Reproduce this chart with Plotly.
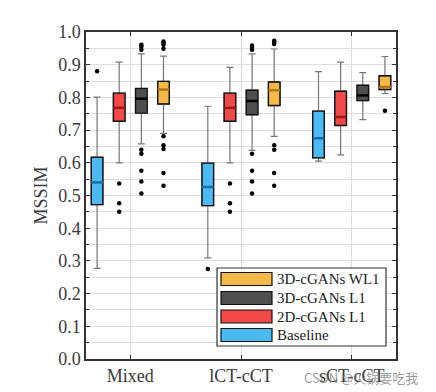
import plotly.graph_objects as go

categories = ["Mixed", "lCT-cCT", "sCT-cCT"]
methods = ["Baseline", "2D-cGANs L1", "3D-cGANs L1", "3D-cGANs WL1"]

# per method: values for each category
lower = {
    "Baseline":     [0.277, 0.309, 0.605],
    "2D-cGANs L1":  [0.600, 0.600, 0.624],
    "3D-cGANs L1":  [0.658, 0.638, 0.732],
    "3D-cGANs WL1": [0.690, 0.681, 0.812],
}
q1 = {
    "Baseline":     [0.472, 0.469, 0.615],
    "2D-cGANs L1":  [0.727, 0.727, 0.714],
    "3D-cGANs L1":  [0.752, 0.747, 0.790],
    "3D-cGANs WL1": [0.780, 0.775, 0.824],
}
median = {
    "Baseline":     [0.540, 0.526, 0.675],
    "2D-cGANs L1":  [0.768, 0.768, 0.740],
    "3D-cGANs L1":  [0.796, 0.789, 0.806],
    "3D-cGANs WL1": [0.824, 0.822, 0.832],
}
q3 = {
    "Baseline":     [0.617, 0.599, 0.758],
    "2D-cGANs L1":  [0.813, 0.813, 0.819],
    "3D-cGANs L1":  [0.827, 0.822, 0.837],
    "3D-cGANs WL1": [0.849, 0.847, 0.866],
}
upper = {
    "Baseline":     [0.801, 0.773, 0.879],
    "2D-cGANs L1":  [0.908, 0.892, 0.908],
    "3D-cGANs L1":  [0.933, 0.933, 0.876],
    "3D-cGANs WL1": [0.926, 0.948, 0.925],
}
outliers = {
    "Baseline":     [[0.880], [0.275], []],
    "2D-cGANs L1":  [[0.537, 0.476, 0.450], [0.537, 0.476, 0.450], []],
    "3D-cGANs L1":  [[0.961, 0.956, 0.946, 0.640, 0.628, 0.576, 0.543, 0.506],
                     [0.959, 0.954, 0.946, 0.628, 0.576, 0.543, 0.506], []],
    "3D-cGANs WL1": [[0.971, 0.966, 0.961, 0.949, 0.681, 0.654, 0.642, 0.569, 0.530],
                     [0.973, 0.968, 0.963, 0.654, 0.640, 0.569, 0.530], [0.759]],
}

fill = {
    "Baseline": "#4ABBF7",
    "2D-cGANs L1": "#F24848",
    "3D-cGANs L1": "#4F4F4F",
    "3D-cGANs WL1": "#F5B945",
}
med_col = {
    "Baseline": "#1B6FA8",
    "2D-cGANs L1": "#A01818",
    "3D-cGANs L1": "#000000",
    "3D-cGANs WL1": "#B07A10",
}
offsets = [-0.3, -0.1, 0.1, 0.3]
bw = 0.105

font = "Liberation Serif, Times New Roman, serif"
fig = go.Figure()
shapes = []

for m, off in zip(methods, offsets):
    xs = [i + off for i in range(len(categories))]
    fig.add_trace(go.Box(
        x=xs, q1=q1[m], median=median[m], q3=q3[m],
        lowerfence=lower[m], upperfence=upper[m],
        width=bw, fillcolor=fill[m], line=dict(color="#777777", width=1.2),
        whiskerwidth=0.6, boxpoints=False, showlegend=False, hoverinfo="skip",
    ))
    for i, x in enumerate(xs):
        shapes.append(dict(type="rect", xref="x", yref="y", x0=x - bw / 2, x1=x + bw / 2,
                           y0=q1[m][i], y1=q3[m][i], line=dict(color="#111111", width=1.4),
                           fillcolor="rgba(0,0,0,0)", layer="above"))
        shapes.append(dict(type="line", xref="x", yref="y", x0=x - bw / 2, x1=x + bw / 2,
                           y0=median[m][i], y1=median[m][i],
                           line=dict(color=med_col[m], width=2.5), layer="above"))
        if outliers[m][i]:
            fig.add_trace(go.Scatter(
                x=[x] * len(outliers[m][i]), y=outliers[m][i], mode="markers",
                marker=dict(color="black", size=4.5), showlegend=False, hoverinfo="skip",
            ))

# custom legend
leg_items = ["3D-cGANs WL1", "3D-cGANs L1", "2D-cGANs L1", "Baseline"]
lx0, lx1 = (217 - 86) / 310, (386 - 86) / 310
ly_top, ly_bot = (359 - 268) / 327, (359 - 346) / 327
shapes.append(dict(type="rect", xref="paper", yref="paper", x0=lx0, x1=lx1, y0=ly_bot, y1=ly_top,
                   line=dict(color="#333333", width=1.2), fillcolor="white", layer="above"))
annotations = []
row_c = [279, 298, 316.5, 335]
for name, yc in zip(leg_items, row_c):
    yp = (359 - yc) / 327
    h = 6.5 / 327
    shapes.append(dict(type="rect", xref="paper", yref="paper",
                       x0=(221 - 86) / 310, x1=(272 - 86) / 310, y0=yp - h, y1=yp + h,
                       fillcolor=fill[name], line=dict(color="#111111", width=1.2), layer="above"))
    annotations.append(dict(xref="paper", yref="paper", x=(275 - 86) / 310, y=yp,
                            xanchor="left", yanchor="middle", text=name, showarrow=False,
                            font=dict(family=font, size=15, color="#222222")))

annotations.append(dict(xref="paper", yref="paper", x=(420 - 86) / 310, y=(359 - 377) / 327,
                        xanchor="right", yanchor="middle", text="CSDN @火锅要吃我", showarrow=False,
                        font=dict(family="Noto Sans CJK SC", size=13, color="rgba(120,120,120,0.75)")))

fig.update_layout(
    width=428, height=384,
    margin=dict(l=78, r=40, t=24, b=33),
    plot_bgcolor="white", paper_bgcolor="white",
    shapes=shapes, annotations=annotations,
    font=dict(family=font, color="#3a3a3a"),
    showlegend=False,
)
fig.update_xaxes(
    range=[-0.4, 2.4], tickvals=[0, 1, 2], ticktext=categories,
    showgrid=True, gridcolor="#DDDDDD", gridwidth=1,
    ticks="inside", ticklen=4, tickcolor="#333333",
    showline=True, linecolor="#333333", linewidth=1.5, mirror="ticks",
    tickfont=dict(size=18, family=font, color="#3a3a3a"), zeroline=False,
    automargin=False,
)
fig.update_yaxes(
    range=[0, 1.0], tickvals=[i / 10 for i in range(11)],
    ticktext=["%.1f" % (i / 10) for i in range(11)],
    showgrid=True, gridcolor="#DDDDDD", gridwidth=1,
    minor=dict(dtick=0.05, showgrid=True, gridcolor="#DDDDDD", ticks="inside", ticklen=3,
               tickcolor="#333333"),
    ticks="inside", ticklen=4, tickcolor="#333333",
    showline=True, linecolor="#333333", linewidth=1.5, mirror="ticks",
    tickfont=dict(size=18, family=font, color="#3a3a3a"), zeroline=False,
    title=dict(text="MSSIM", font=dict(size=18, family=font, color="#3a3a3a"), standoff=6),
    automargin=False,
)

fig.write_html("out.html")
